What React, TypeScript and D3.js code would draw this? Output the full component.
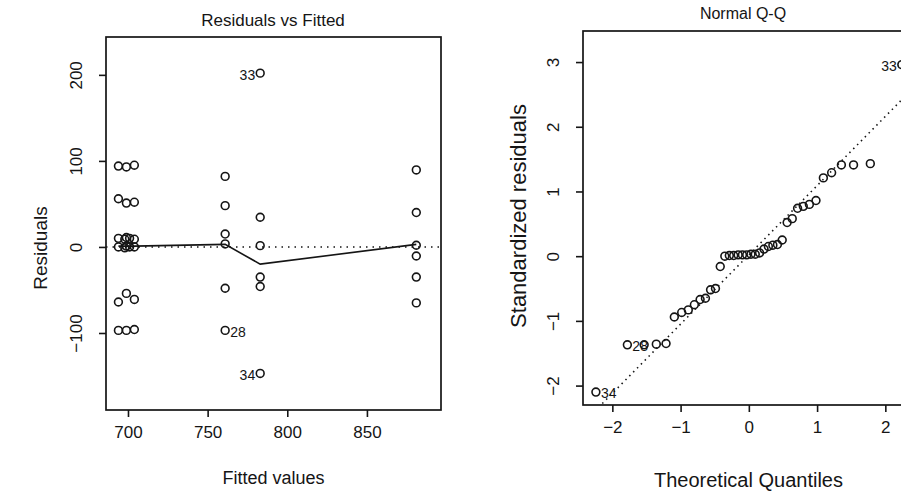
import React, { useRef, useEffect } from "react";
import * as d3 from "d3";

// Residuals vs Fitted: one entry per observation (obs number = index + 1)
const fittedValues = [
  694, 699, 704, 694, 699, 704, 694, 698, 699, 701, 704, 694, 698, 699, 701, 704,
  694, 699, 704, 694, 699, 704,
  761, 761, 761, 761, 761, 761,
  783, 783, 783, 783, 783, 783,
  881, 881, 881, 881, 881, 881,
];
const residualValues = [
  94, 93, 95, 56, 51, 52, 10, 9, 11, 10, 9, 0, -1, 1, 0, 0,
  -64, -54, -61, -97, -97, -96,
  82, 48, 15, 3.5, -48, -97,
  34.5, 1.5, -35, -46, 202, -147,
  89.5, 40, 2, -10.5, -35, -65,
];
const residLabelIds = [28, 33, 34];
const residLabelSide = ["right", "left", "left"];

// lowess smooth
const smoothFitted = [694, 704, 761, 783, 881];
const smoothResid = [1, 1, 3, -20, 3];

const residXTicks = [700, 750, 800, 850];
const residYTicks = [-100, 0, 100, 200];

// Normal Q-Q (sorted)
const theoreticalQuantiles = [
  -2.241, -1.78, -1.534, -1.356, -1.213, -1.092, -0.984, -0.887, -0.798, -0.714,
  -0.636, -0.561, -0.489, -0.419, -0.352, -0.286, -0.222, -0.157, -0.094, -0.031,
  0.031, 0.094, 0.157, 0.222, 0.286, 0.352, 0.419, 0.489, 0.561, 0.636,
  0.714, 0.798, 0.887, 0.984, 1.092, 1.213, 1.356, 1.534, 1.78, 2.241,
];
const standardizedResiduals = [
  -2.1, -1.37, -1.37, -1.36, -1.35, -0.94, -0.87, -0.83, -0.75, -0.67,
  -0.65, -0.52, -0.5, -0.16, 0.0, 0.01, 0.01, 0.02, 0.02, 0.02,
  0.03, 0.03, 0.05, 0.11, 0.15, 0.17, 0.18, 0.25, 0.52, 0.58,
  0.74, 0.77, 0.8, 0.86, 1.21, 1.29, 1.41, 1.41, 1.43, 2.96,
];
const qqLabelIndex = [0, 1, 39];
const qqLabelText = ["34", "28", "33"];
const qqLabelSide = ["right", "right", "left"];
const qqLineIntercept = 0.02;
const qqLineSlope = 1.07;

const qqXTicks = [-2, -1, 0, 1, 2];
const qqYTicks = [-2, -1, 0, 1, 2, 3];

const FONT = "'Liberation Sans', Arial, Helvetica, sans-serif";
const INK = "#151515";
const fmt = (v: number) => (v < 0 ? "\u2212" + Math.abs(v) : String(v));

function App() {
  const svgRef = useRef<SVGSVGElement>(null);

  useEffect(() => {
    const svg = d3.select(svgRef.current);
    svg.selectAll("*").remove();
    svg.attr("font-family", FONT);

    const drawPanel = (opts: any) => {
      const { x, y, xTicks, yTicks, clipId } = opts;
      const [x0, x1] = x.range();
      const [y0, y1] = y.range();
      const g = svg.append("g");

      g.append("clipPath")
        .attr("id", clipId)
        .append("rect")
        .attr("x", x0)
        .attr("y", y1)
        .attr("width", x1 - x0)
        .attr("height", y0 - y1);

      g.append("rect")
        .attr("x", x0)
        .attr("y", y1)
        .attr("width", x1 - x0)
        .attr("height", y0 - y1)
        .attr("fill", "none")
        .attr("stroke", INK)
        .attr("stroke-width", 1.7);

      const xAxis = d3.axisBottom(x).tickValues(xTicks).tickSize(7).tickPadding(9).tickFormat(fmt);
      g.append("g")
        .attr("transform", `translate(0, ${y0})`)
        .call(xAxis)
        .call((a) => a.select(".domain").remove())
        .call((a) => a.selectAll("line").attr("stroke", INK).attr("stroke-width", 1.6))
        .call((a) =>
          a.selectAll("text").attr("font-size", 17).attr("font-family", FONT).attr("fill", INK)
        );

      const yAxis = d3.axisLeft(y).tickValues(yTicks).tickSize(7).tickFormat(fmt);
      g.append("g")
        .attr("transform", `translate(${x0}, 0)`)
        .call(yAxis)
        .call((a) => a.select(".domain").remove())
        .call((a) => a.selectAll("line").attr("stroke", INK).attr("stroke-width", 1.6))
        .call((a) =>
          a
            .selectAll("text")
            .attr("font-size", 17)
            .attr("font-family", FONT)
            .attr("fill", INK)
            .attr("x", null)
            .attr("dy", null)
            .attr("text-anchor", "middle")
            .attr("transform", "translate(-30, 0) rotate(-90)")
            .attr("dominant-baseline", "central")
        );

      svg.append("text")
        .attr("x", opts.titleX)
        .attr("y", opts.titleY)
        .attr("text-anchor", "middle")
        .attr("dominant-baseline", "central")
        .attr("font-size", opts.titleSize)
        .attr("fill", INK)
        .text(opts.title);
      svg.append("text")
        .attr("x", (x0 + x1) / 2)
        .attr("y", opts.xLabelY)
        .attr("text-anchor", "middle")
        .attr("dominant-baseline", "central")
        .attr("font-size", opts.xLabelSize)
        .attr("fill", INK)
        .text(opts.xLabel);
      svg.append("text")
        .attr("transform", `translate(${opts.yLabelX}, ${opts.yLabelY}) rotate(-90)`)
        .attr("text-anchor", "middle")
        .attr("dominant-baseline", "central")
        .attr("font-size", opts.yLabelSize)
        .attr("fill", INK)
        .text(opts.yLabel);
      return g;
    };

    // ---- Residuals vs Fitted ----
    const rx = d3.scaleLinear().domain([686.2, 896.5]).range([106, 441]);
    const ry = d3.scaleLinear().domain([-189.5, 244]).range([410, 37]);
    const left = drawPanel({
      x: rx, y: ry, xTicks: residXTicks, yTicks: residYTicks, clipId: "clipLeft",
      title: "Residuals vs Fitted", titleX: 273, titleY: 20, titleSize: 17,
      xLabel: "Fitted values", xLabelY: 478, xLabelSize: 18,
      yLabel: "Residuals", yLabelX: 40, yLabelY: 248, yLabelSize: 19,
    });

    left.append("line")
      .attr("clip-path", "url(#clipLeft)")
      .attr("x1", rx.range()[0])
      .attr("x2", rx.range()[1])
      .attr("y1", ry(0))
      .attr("y2", ry(0))
      .attr("stroke", INK)
      .attr("stroke-width", 1.5)
      .attr("stroke-dasharray", "1.5,5");

    const smooth = d3.line<number>()
      .x((d, i) => rx(smoothFitted[i]))
      .y((d) => ry(d));
    left.append("path")
      .datum(smoothResid)
      .attr("fill", "none")
      .attr("stroke", INK)
      .attr("stroke-width", 1.6)
      .attr("d", smooth);

    left.selectAll("circle.pt")
      .data(residualValues)
      .join("circle")
      .attr("class", "pt")
      .attr("cx", (d, i) => rx(fittedValues[i]))
      .attr("cy", (d) => ry(d))
      .attr("r", 3.9)
      .attr("fill", "none")
      .attr("stroke", INK)
      .attr("stroke-width", 1.6);

    residLabelIds.forEach((id, k) => {
      const i = id - 1;
      const right = residLabelSide[k] === "right";
      left.append("text")
        .attr("x", rx(fittedValues[i]) + (right ? 5 : -5))
        .attr("y", ry(residualValues[i]) + 2)
        .attr("text-anchor", right ? "start" : "end")
        .attr("dominant-baseline", "central")
        .attr("font-size", 14)
        .attr("fill", INK)
        .text(String(id));
    });

    // ---- Normal Q-Q ----
    const qx = d3.scaleLinear().domain([-2.43, 2.42]).range([583, 914]);
    const qy = d3.scaleLinear().domain([-2.3, 3.48]).range([405, 31]);
    const right = drawPanel({
      x: qx, y: qy, xTicks: qqXTicks, yTicks: qqYTicks, clipId: "clipRight",
      title: "Normal Q-Q", titleX: 743, titleY: 13, titleSize: 16,
      xLabel: "Theoretical Quantiles", xLabelY: 480, xLabelSize: 20,
      yLabel: "Standardized residuals", yLabelX: 518, yLabelY: 216, yLabelSize: 22,
    });

    const qd = qx.domain();
    right.append("line")
      .attr("clip-path", "url(#clipRight)")
      .attr("x1", qx(qd[0]))
      .attr("x2", qx(qd[1]))
      .attr("y1", qy(qqLineIntercept + qqLineSlope * qd[0]))
      .attr("y2", qy(qqLineIntercept + qqLineSlope * qd[1]))
      .attr("stroke", INK)
      .attr("stroke-width", 1.6)
      .attr("stroke-dasharray", "1.5,4");

    right.selectAll("circle.pt")
      .data(standardizedResiduals)
      .join("circle")
      .attr("class", "pt")
      .attr("cx", (d, i) => qx(theoreticalQuantiles[i]))
      .attr("cy", (d) => qy(d))
      .attr("r", 3.9)
      .attr("fill", "none")
      .attr("stroke", INK)
      .attr("stroke-width", 1.6);

    qqLabelIndex.forEach((i, k) => {
      const r = qqLabelSide[k] === "right";
      right.append("text")
        .attr("x", qx(theoreticalQuantiles[i]) + (r ? 5 : -5))
        .attr("y", qy(standardizedResiduals[i]) + 1)
        .attr("text-anchor", r ? "start" : "end")
        .attr("dominant-baseline", "central")
        .attr("font-size", 14)
        .attr("fill", INK)
        .text(qqLabelText[k]);
    });
  }, []);

  return (
    <svg
      ref={svgRef}
      width={901}
      height={497}
      style={{ position: "absolute", left: 0, top: 0, background: "#fff" }}
    ></svg>
  );
}

export default App;
